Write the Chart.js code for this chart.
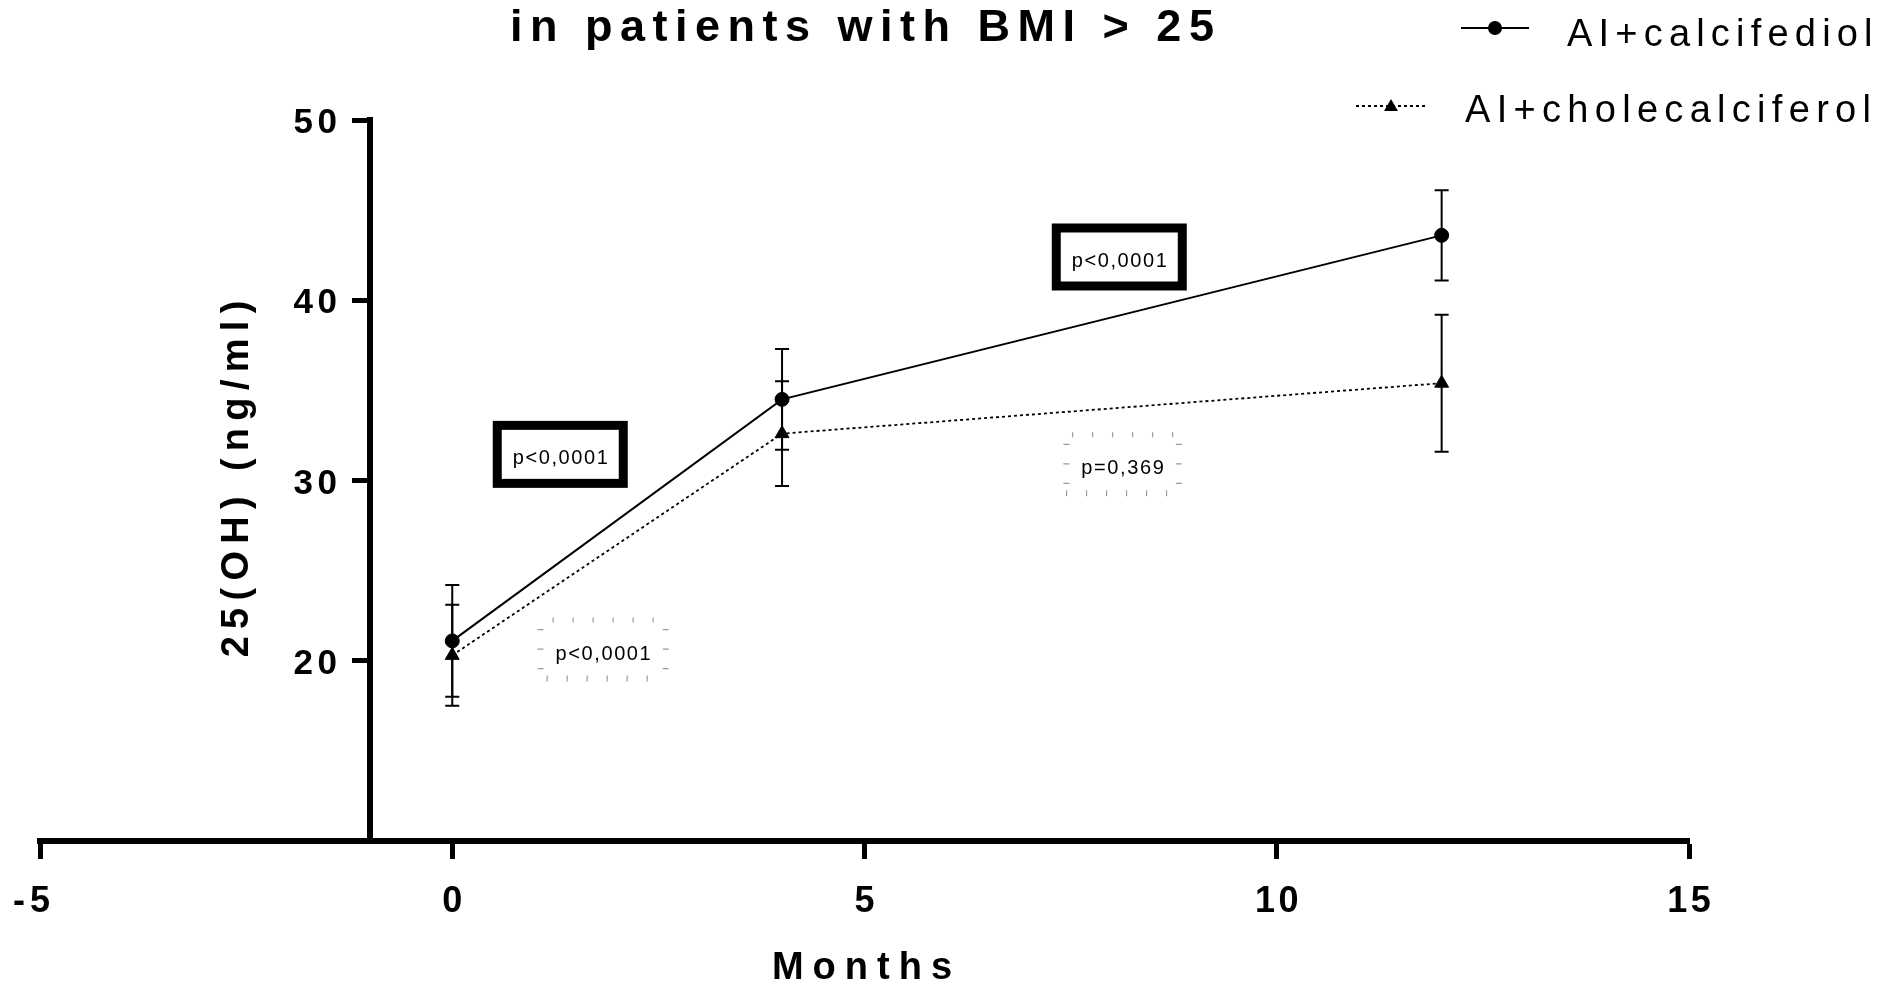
<!DOCTYPE html>
<html>
<head>
<meta charset="utf-8">
<title>25(OH) in patients with BMI &gt; 25</title>
<script src="https://cdn.jsdelivr.net/npm/chart.js@4.4.1/dist/chart.umd.min.js"></script>
<style>
  html, body { margin: 0; padding: 0; background: #fff; }
  canvas { display: block; }
</style>
</head>
<body>
<canvas id="myChart" width="1885" height="983"></canvas>
<script>
// follow-up times (months)
var months = [0, 4, 12];

// AI + calcifediol: mean and SD of 25(OH)
var calcifediolMean = [21.1, 34.5, 43.6];
var calcifediolSd = [3.1, 2.8, 2.5];

// AI + cholecalciferol: mean and SD of 25(OH)
var cholecalciferolMean = [20.3, 32.6, 35.4];
var cholecalciferolSd = [2.8, 2.9, 3.8];

var seriesNames = ['AI+calcifediol', 'AI+cholecalciferol'];

var xTicks = [-5, 0, 5, 10, 15];
var yTicks = [20, 30, 40, 50];

// p-value notes, placed in data coordinates (month, ng/ml)
var pLabels = ['p<0,0001', 'p<0,0001', 'p<0,0001', 'p=0,369'];
var pMonth = [1.31, 1.83, 8.09, 8.13];
var pLevel = [31.45, 20.62, 42.4, 30.9];

var titleText = 'in patients with BMI > 25';
var xTitle = 'Months';
var yTitle = '25(OH) (ng/ml)';

window.addEventListener('load', function() {
    var canvas = document.getElementById('myChart');
    var context = canvas.getContext('2d');
    var FONT = '"Liberation Sans", Arial, Helvetica, sans-serif';

    function textWidth(ctx, text, spacing) {
        var total = 0;
        for (var i = 0; i < text.length; i++) total += ctx.measureText(text[i]).width;
        return total + spacing * (text.length - 1);
    }

    // the figure uses wide letter spacing, so text is laid out char by char
    function spacedText(ctx, text, x, y, spacing, align) {
        var total = textWidth(ctx, text, spacing);
        var start = x;
        if (align === 'center') start = x - total / 2;
        else if (align === 'right') start = x - total;
        ctx.textAlign = 'left';
        ctx.textBaseline = 'alphabetic';
        for (var j = 0; j < text.length; j++) {
            ctx.fillText(text[j], start, y);
            start += ctx.measureText(text[j]).width + spacing;
        }
        return total;
    }

    function drawTriangle(ctx, x, y, r) {
        ctx.beginPath();
        ctx.moveTo(x, y - r);
        ctx.lineTo(x + r * 0.866, y + r / 2);
        ctx.lineTo(x - r * 0.866, y + r / 2);
        ctx.closePath();
        ctx.fill();
    }

    // SD error bars drawn through the chart's scales
    var errorBars = {
        id: 'errorBars',
        afterDatasetsDraw: function(chart) {
            var ctx = chart.ctx, xs = chart.scales.x, ys = chart.scales.y;
            var sets = [[calcifediolMean, calcifediolSd], [cholecalciferolMean, cholecalciferolSd]];
            ctx.save();
            ctx.strokeStyle = '#000';
            ctx.lineWidth = 2;
            sets.forEach(function(s) {
                for (var i = 0; i < months.length; i++) {
                    var px = xs.getPixelForValue(months[i]);
                    var top = ys.getPixelForValue(s[0][i] + s[1][i]);
                    var bot = ys.getPixelForValue(s[0][i] - s[1][i]);
                    ctx.beginPath();
                    ctx.moveTo(px, top); ctx.lineTo(px, bot);
                    ctx.moveTo(px - 7, top); ctx.lineTo(px + 7, top);
                    ctx.moveTo(px - 7, bot); ctx.lineTo(px + 7, bot);
                    ctx.stroke();
                }
            });
            ctx.restore();
        }
    };

    var annotFramed = [true, false, true, false];

    // title, tick labels, axis titles, legend and p-value boxes
    var textLayer = {
        id: 'textLayer',
        afterDraw: function(chart) {
            var ctx = chart.ctx, xs = chart.scales.x, ys = chart.scales.y;
            ctx.save();
            ctx.fillStyle = '#000';

            // title (first line is cropped off in the figure)
            ctx.font = 'bold 45px ' + FONT;
            spacedText(ctx, titleText, 862, 41, 7.5, 'center');

            // y tick labels
            ctx.font = 'bold 35px ' + FONT;
            yTicks.forEach(function(v) {
                spacedText(ctx, String(v), 337, ys.getPixelForValue(v) + 13, 4.5, 'right');
            });

            // x tick labels; a minus sign hangs left of the centred digits
            ctx.font = 'bold 36px ' + FONT;
            xTicks.forEach(function(v) {
                var px = xs.getPixelForValue(v);
                var digits = String(Math.abs(v));
                var w = spacedText(ctx, digits, px, 912, 3.5, 'center');
                if (v < 0) {
                    spacedText(ctx, '-', px - w / 2 - 5, 912, 0, 'right');
                }
            });

            // axis titles
            ctx.font = 'bold 38px ' + FONT;
            spacedText(ctx, xTitle, 862, 979, 9, 'center');

            ctx.save();
            ctx.translate(248, 479);
            ctx.rotate(-Math.PI / 2);
            spacedText(ctx, yTitle, 0, 0, 7.3, 'center');
            ctx.restore();

            // legend
            ctx.strokeStyle = '#000';
            ctx.lineWidth = 2;
            ctx.beginPath();
            ctx.moveTo(1461, 28); ctx.lineTo(1529, 28);
            ctx.stroke();
            ctx.beginPath();
            ctx.arc(1495, 28, 7, 0, Math.PI * 2);
            ctx.fill();

            ctx.setLineDash([3, 3]);
            ctx.lineWidth = 1.8;
            ctx.beginPath();
            ctx.moveTo(1356, 106); ctx.lineTo(1425, 106);
            ctx.stroke();
            ctx.setLineDash([]);
            drawTriangle(ctx, 1391, 107, 8);

            ctx.font = '38px ' + FONT;
            spacedText(ctx, seriesNames[0], 1567, 46, 6.2, 'left');
            spacedText(ctx, seriesNames[1], 1465, 122, 6.3, 'left');

            // p-value boxes
            ctx.font = '20px ' + FONT;
            for (var i = 0; i < pLabels.length; i++) {
                var cx = xs.getPixelForValue(pMonth[i]);
                var cy = ys.getPixelForValue(pLevel[i]);
                var tw = textWidth(ctx, pLabels[i], 1.6);
                if (annotFramed[i]) {
                    ctx.strokeStyle = '#000';
                    ctx.lineWidth = 9;
                    ctx.strokeRect(cx - 63, cy - 29, 126, 58);
                } else {
                    var w = tw + 36, h = 64;
                    var l = cx - w / 2, r = cx + w / 2, t = cy - h / 2, b = cy + h / 2;
                    ctx.strokeStyle = '#9a9a9a';
                    ctx.lineWidth = 1.2;
                    ctx.beginPath();
                    var n = Math.floor((w - 16) / 20);
                    var x0 = cx - n * 10;
                    for (var k = 0; k <= n; k++) {
                        ctx.moveTo(x0 + k * 20, t); ctx.lineTo(x0 + k * 20, t + 5);
                        ctx.moveTo(x0 + k * 20 - 6, b - 6); ctx.lineTo(x0 + k * 20 - 6, b);
                    }
                    for (var m = 0; m < 3; m++) {
                        var yy = t + 12 + m * 19.5;
                        ctx.moveTo(l, yy); ctx.lineTo(l + 6, yy);
                        ctx.moveTo(r - 6, yy); ctx.lineTo(r, yy);
                    }
                    ctx.stroke();
                }
                ctx.fillStyle = '#000';
                spacedText(ctx, pLabels[i], cx, cy + 10, 1.6, 'center');
            }
            ctx.restore();
        }
    };

    var chart = new Chart(context, {
        type: 'line',
        data: {
            datasets: [{
                label: seriesNames[0],
                data: months.map(function(m, i) { return {x: m, y: calcifediolMean[i]}; }),
                borderColor: '#000',
                borderWidth: 2,
                pointStyle: 'circle',
                pointRadius: 7,
                pointBackgroundColor: '#000',
                pointBorderColor: '#000',
                pointBorderWidth: 1,
                tension: 0,
                fill: false
            }, {
                label: seriesNames[1],
                data: months.map(function(m, i) { return {x: m, y: cholecalciferolMean[i]}; }),
                borderColor: '#000',
                borderWidth: 1.8,
                borderDash: [3, 3],
                pointStyle: 'triangle',
                pointRadius: 8,
                pointBackgroundColor: '#000',
                pointBorderColor: '#000',
                pointBorderWidth: 1,
                tension: 0,
                fill: false
            }]
        },
        options: {
            responsive: false,
            animation: false,
            devicePixelRatio: 1,
            layout: { padding: { left: 40, right: 196, top: 120, bottom: 142 } },
            plugins: {
                legend: { display: false },
                title: { display: false },
                tooltip: { enabled: false }
            },
            scales: {
                x: {
                    type: 'linear',
                    axis: 'x',
                    position: { y: 10 },
                    min: -5,
                    max: 15,
                    afterBuildTicks: function(scale) {
                        scale.ticks = xTicks.map(function(v) { return {value: v}; });
                    },
                    grid: { drawOnChartArea: false, drawTicks: true, tickLength: 15, tickWidth: 5, tickColor: '#000' },
                    border: { display: true, color: '#000', width: 6 },
                    ticks: { display: false }
                },
                y: {
                    type: 'linear',
                    axis: 'y',
                    position: { x: -1 },
                    min: 10,
                    max: 50,
                    afterBuildTicks: function(scale) {
                        scale.ticks = yTicks.map(function(v) { return {value: v}; });
                    },
                    grid: { drawOnChartArea: false, drawTicks: true, tickLength: 15, tickWidth: 5, tickColor: '#000' },
                    border: { display: true, color: '#000', width: 6 },
                    ticks: { display: false }
                }
            }
        },
        plugins: [errorBars, textLayer]
    });
});
</script>
</body>
</html>
